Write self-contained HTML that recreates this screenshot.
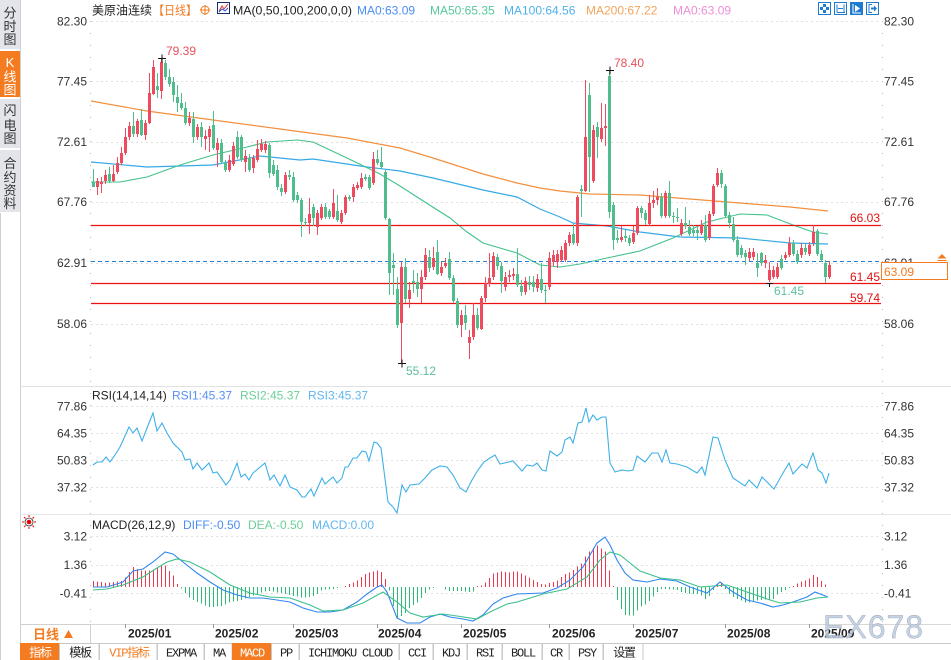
<!DOCTYPE html>
<html><head><meta charset="utf-8">
<style>
html,body{margin:0;padding:0;background:#fff;}
body{width:951px;height:660px;overflow:hidden;}
svg{display:block;font-family:"Liberation Sans","Noto Sans CJK SC",sans-serif;font-size:12px;}
.cj{font-family:"Liberation Sans","Noto Sans CJK SC","WenQuanYi Zen Hei",sans-serif;}
.mono{font-family:"Liberation Mono","Noto Sans CJK SC",monospace;letter-spacing:-1.2px;}
</style></head><body>
<svg id="c" width="951" height="660" viewBox="0 0 951 660" xmlns="http://www.w3.org/2000/svg">
<rect x="0" y="0" width="951" height="660" fill="#fff"/>

<!-- left sidebar -->
<rect x="0" y="0" width="20" height="49" fill="#e4e5ea"/>
<rect x="0" y="51" width="20" height="46" fill="#f47b20"/>
<rect x="0" y="99" width="20" height="49" fill="#e4e5ea"/>
<rect x="0" y="150" width="20" height="62" fill="#e4e5ea"/>
<line x1="0.5" y1="213" x2="0.5" y2="660" stroke="#cfcfcf"/>
<line x1="20.5" y1="0" x2="20.5" y2="660" stroke="#d0d0d0"/>
<g class="cj" text-anchor="middle">
<text x="10" y="17.5" style="font-size:13px" fill="#333">分</text>
<text x="10" y="31" style="font-size:13px" fill="#333">时</text>
<text x="10" y="44" style="font-size:13px" fill="#333">图</text>
<text x="10" y="67" style="font-size:13px" fill="#fff">K</text>
<text x="10" y="81.5" style="font-size:13px" fill="#fff">线</text>
<text x="10" y="94.5" style="font-size:13px" fill="#fff">图</text>
<text x="10" y="115" style="font-size:13px" fill="#333">闪</text>
<text x="10" y="130" style="font-size:13px" fill="#333">电</text>
<text x="10" y="143" style="font-size:13px" fill="#333">图</text>
<text x="10" y="168" style="font-size:13px" fill="#333">合</text>
<text x="10" y="182" style="font-size:13px" fill="#333">约</text>
<text x="10" y="195" style="font-size:13px" fill="#333">资</text>
<text x="10" y="208" style="font-size:13px" fill="#333">料</text>
</g>

<!-- panel separators -->
<line x1="20" y1="386.5" x2="951" y2="386.5" stroke="#e2e2e2"/>
<line x1="20" y1="514.5" x2="951" y2="514.5" stroke="#e6e6e6"/>

<!-- grid lines -->
<g stroke="#e0e0e0" stroke-dasharray="2,3">
<line x1="91" y1="21.5" x2="881" y2="21.5"/>
<line x1="91" y1="81.5" x2="881" y2="81.5"/>
<line x1="91" y1="142.5" x2="881" y2="142.5"/>
<line x1="91" y1="202.5" x2="881" y2="202.5"/>
<line x1="91" y1="263.5" x2="881" y2="263.5"/>
<line x1="91" y1="324.5" x2="881" y2="324.5"/>
<line x1="91" y1="406.5" x2="881" y2="406.5"/>
<line x1="91" y1="433.5" x2="881" y2="433.5"/>
<line x1="91" y1="460.5" x2="881" y2="460.5"/>
<line x1="91" y1="487.5" x2="881" y2="487.5"/>
<line x1="91" y1="536.5" x2="881" y2="536.5"/>
<line x1="91" y1="565.5" x2="881" y2="565.5"/>
<line x1="91" y1="593.5" x2="881" y2="593.5"/>
</g>

<!-- axes dotted -->
<g stroke="#b8b8b8" stroke-dasharray="1,11">
<line x1="90.5" y1="21" x2="90.5" y2="623"/>
<line x1="882.5" y1="21" x2="882.5" y2="623"/>
</g>

<!-- axis labels left -->
<g fill="#333" text-anchor="end">
<text x="87" y="25.5">82.30</text>
<text x="87" y="85.5">77.45</text>
<text x="87" y="146">72.61</text>
<text x="87" y="206">67.76</text>
<text x="87" y="267">62.91</text>
<text x="87" y="328">58.06</text>
<text x="87" y="410.5">77.86</text>
<text x="87" y="437.5">64.35</text>
<text x="87" y="464.5">50.83</text>
<text x="87" y="491.5">37.32</text>
<text x="87" y="540.5">3.12</text>
<text x="87" y="569">1.36</text>
<text x="87" y="597.5">-0.41</text>
</g>
<!-- axis labels right -->
<g fill="#333">
<text x="884" y="25.5">82.30</text>
<text x="884" y="85.5">77.45</text>
<text x="884" y="146">72.61</text>
<text x="884" y="206">67.76</text>
<text x="884" y="267">62.91</text>
<text x="884" y="328">58.06</text>
<text x="884" y="410.5">77.86</text>
<text x="884" y="437.5">64.35</text>
<text x="884" y="464.5">50.83</text>
<text x="884" y="491.5">37.32</text>
<text x="884" y="540.5">3.12</text>
<text x="884" y="569">1.36</text>
<text x="884" y="597.5">-0.41</text>
</g>

<!-- header -->
<text x="92" y="14.5" fill="#222" class="cj">美原油连续</text>
<text x="153" y="14.5" fill="#f47b20" class="cj" textLength="44" lengthAdjust="spacingAndGlyphs">【日线】</text>
<circle cx="205" cy="10" r="4" fill="none" stroke="#f47b20" stroke-width="1"/>
<line x1="200" y1="10" x2="210" y2="10" stroke="#f47b20"/>
<line x1="205" y1="5" x2="205" y2="15" stroke="#f47b20"/>
<rect x="217.5" y="2.5" width="12" height="11" fill="#fff" stroke="#1b2a6b"/>
<polyline points="219,11 222,6 224,9 228,4" fill="none" stroke="#e03030" stroke-width="1"/>
<polyline points="219,12 222,9 225,11 228,8" fill="none" stroke="#2060e0" stroke-width="1"/>
<text x="233" y="14.5" fill="#222" textLength="119" lengthAdjust="spacingAndGlyphs">MA(0,50,100,200,0,0)</text>
<text x="357" y="14.5" fill="#4b8ef5">MA0:63.09</text>
<text x="430" y="14.5" fill="#56c99a">MA50:65.35</text>
<text x="504" y="14.5" fill="#4db2ee">MA100:64.56</text>
<text x="586" y="14.5" fill="#f5a35c">MA200:67.22</text>
<text x="673" y="14.5" fill="#ee8ed8">MA0:63.09</text>

<!-- toolbar icons -->
<g>
<rect x="818.5" y="2.5" width="12" height="12" fill="#fff" stroke="#1f7bd0"/>
<rect x="823" y="4" width="3" height="3" fill="#1f7bd0"/><rect x="823" y="10" width="3" height="3" fill="#1f7bd0"/>
<rect x="820" y="7" width="3" height="3" fill="#1f7bd0"/><rect x="826" y="7" width="3" height="3" fill="#1f7bd0"/>
<rect x="834.5" y="2.5" width="12" height="12" fill="#fff" stroke="#1f7bd0"/>
<path d="M837 4.5V12.5M844 4.5V12.5M838 8.5H843M837 12.5H845" stroke="#1f7bd0" fill="none"/>
<rect x="850.5" y="2.5" width="12" height="12" fill="#1f7bd0" stroke="#1f7bd0"/>
<path d="M853 4V13H861" stroke="#fff" fill="none"/><polygon points="855,5 860,8.5 855,12" fill="#fff"/>
<rect x="866.5" y="2.5" width="12" height="12" fill="#fff" stroke="#1f7bd0"/>
<path d="M872 4.5H869V12.5H872" stroke="#1f7bd0" fill="none"/><path d="M871 8.5H875" stroke="#1f7bd0" stroke-width="2"/><polygon points="874,5.5 877,8.5 874,11.5" fill="#1f7bd0"/>
</g>

<!-- MA lines -->
<polyline fill="none" stroke="#f2903f" stroke-width="1.2" points="91,101 147,111 213,120 280,129 347,138 400,148 433,158 483,174 517,183 540,188 560,191 590,194 640,195 690,199 740,203 790,207 828,211"/>
<polyline fill="none" stroke="#36a9e6" stroke-width="1.2" points="91,162 147,167 213,165 260,156 300,160 313,159 367,167 400,171 433,178 483,190 517,197 540,209 560,217 573,223 607,226 640,232 680,237 740,238 790,243 828,244"/>
<polyline fill="none" stroke="#42c28a" stroke-width="1.1" points="91,182 120,182 147,177 180,165 213,155 247,147 267,142 297,140 313,142 347,158 380,174 400,186 417,197 450,218 467,232 483,243 517,253 540,265 560,267 580,264 607,258 640,251 673,238 707,222 740,214 767,215 793,225 813,232 828,234"/>

<!-- horizontal levels -->
<line x1="91" y1="225.5" x2="881" y2="225.5" stroke="#ee1111" stroke-width="1.3"/>
<line x1="91" y1="283.5" x2="881" y2="283.5" stroke="#ee1111" stroke-width="1.3"/>
<line x1="91" y1="303.5" x2="881" y2="303.5" stroke="#ee1111" stroke-width="1.3"/>
<line x1="91" y1="261.5" x2="881" y2="261.5" stroke="#2080e0" stroke-width="1" stroke-dasharray="4,3"/>

<!-- candles -->
<path id="gw" stroke="#4fbd8c" stroke-width="1" fill="none" shape-rendering="crispEdges"/>
<path id="rw" stroke="#ee4b5e" stroke-width="1" fill="none" shape-rendering="crispEdges"/>
<path id="gb" fill="#4fbd8c" shape-rendering="crispEdges"/>
<path id="rb" fill="#ee4b5e" shape-rendering="crispEdges"/>

<!-- level labels -->
<text x="850" y="222" fill="#e01010">66.03</text>
<text x="850" y="281" fill="#e01010">61.45</text>
<text x="850" y="302" fill="#e01010">59.74</text>

<!-- extreme markers -->
<text x="166" y="55" fill="#e8505b">79.39</text>
<text x="614" y="67" fill="#e8505b">78.40</text>
<text x="406" y="375" fill="#5fbf9f">55.12</text>
<text x="774" y="295" fill="#5fbf9f">61.45</text>
<path d="M158 58.5H166M162 54.5V62.5M606 70.5H614M610 66.5V74.5M398 363.5H406M402 359.5V367.5M766 283.5H773M769.5 283V287" stroke="#111" stroke-width="1" fill="none"/>

<!-- price box -->
<rect x="881.5" y="262.5" width="66" height="17" fill="#fff" stroke="#f47b20"/>
<text x="884" y="276" fill="#f47b20">63.09</text>
<polygon points="942,254 946.5,258.5 937.5,258.5" fill="#f47b20"/>
<line x1="937.5" y1="260.5" x2="946.5" y2="260.5" stroke="#f47b20"/>

<!-- RSI -->
<text x="92" y="399.5" fill="#222">RSI(14,14,14)</text>
<text x="172" y="399.5" fill="#5a8ff5">RSI1:45.37</text>
<text x="240" y="399.5" fill="#6ccf98">RSI2:45.37</text>
<text x="308" y="399.5" fill="#62b7f0">RSI3:45.37</text>
<polyline fill="none" stroke="#3fb0e8" stroke-width="1.1" points="93,465 97,462 102,462 106,457 110,462 115,455 120,447 129,427 133,433 137,428 142,441 147,428 153,413 157,431 162,423 167,433 173,443 182,452 185,460 190,459 193,469 197,463 202,470 209,463 213,473 217,472 226,485 230,480 237,463 241,477 245,474 249,480 253,473 265,463 270,480 274,475 280,486 285,475 290,487 297,490 302,497 305,497 311,489 314,496 322,478 325,484 333,477 337,483 342,478 345,467 348,467 353,458 357,458 362,451 366,452 369,461 374,442 377,443 381,448 388,502 393,507 397,513 402,485 406,492 410,485 419,484 425,478 432,470 440,466 447,467 453,475 460,488 466,492 472,480 478,470 484,462 490,458 495,455 500,464 513,461 522,471 527,465 533,466 537,463 542,470 546,471 550,451 557,456 562,452 565,440 570,437 573,443 578,423 582,422 586,408 589,422 593,415 597,420 602,417 606,417 610,463 615,472 622,470 628,471 633,470 637,456 645,462 652,453 658,453 662,462 666,450 670,463 677,464 687,467 697,473 702,467 705,475 713,437 718,438 725,460 733,478 745,486 749,480 757,488 762,477 774,489 783,473 789,463 793,474 802,464 807,468 813,453 818,470 822,473 826,483 829,473"/>

<!-- MACD -->
<g>
<circle cx="29" cy="522" r="2.3" fill="#e00"/>
<circle cx="29" cy="522" r="4" fill="none" stroke="#333" stroke-width="0.8"/>
<path d="M29 515V517M29 527V529M22 522H24M34 522H36M24 517L25.5 518.5M32.5 525.5L34 527M34 517L32.5 518.5M25.5 525.5L24 527" stroke="#e00" stroke-width="1"/>
</g>
<text x="92" y="529" fill="#222">MACD(26,12,9)</text>
<text x="183" y="529" fill="#4b8ef5">DIFF:-0.50</text>
<text x="248" y="529" fill="#6ccf98">DEA:-0.50</text>
<text x="312" y="529" fill="#62b7f0">MACD:0.00</text>
<path id="hr" fill="#f0364c" shape-rendering="crispEdges"/>
<path id="hg" fill="#30b878" shape-rendering="crispEdges"/>
<polyline id="diff" fill="none" stroke="#2f86f0" stroke-width="1.1" points="93,587 107,587 123,582 133,571 143,569 153,562 165,552 173,554 183,562 197,573 210,582 223,590 237,595 250,598 263,598 277,600 290,602 303,608 317,612 330,612 343,610 357,602 367,594 377,587 382,585 387,592 397,618 407,623 420,623 430,617 440,614 450,617 463,619 473,621 483,615 493,604 503,598 517,594 543,593 557,588 570,580 583,567 597,543 605,537 610,545 617,560 625,573 633,580 647,582 660,579 677,581 690,587 707,593 720,582 733,592 747,600 760,603 773,607 783,605 793,602 807,597 815,592 828,597"/>
<polyline id="dea" fill="none" stroke="#3cc08a" stroke-width="1.1" points="93,590 107,589 123,585 143,577 157,568 167,562 177,559 190,562 210,572 230,585 250,593 270,597 290,598 310,605 323,611 343,610 363,603 383,592 397,602 410,613 423,617 443,614 457,616 477,619 490,612 507,604 517,602 543,594 567,589 587,577 600,560 610,552 620,555 630,563 640,571 660,578 680,580 700,587 727,585 747,592 767,599 780,603 800,602 817,598 828,597"/>

<!-- date axis -->
<line x1="20" y1="624.5" x2="951" y2="624.5" stroke="#d8d8d8"/>
<rect x="20.5" y="624.5" width="70" height="19" fill="#fff" stroke="#d0d0d0"/>
<text x="33" y="639" fill="#f47b20" font-weight="bold" style="font-size:13px" class="cj">日线</text>
<polygon points="68.5,630 73,638 64,638" fill="#f47b20"/>
<path d="M125.5 624V628M213.5 624V628M293.5 624V628M377.5 624V628M461.5 624V628M549.5 624V628M633.5 624V628M725.5 624V628M809.5 624V628" stroke="#999"/>
<g fill="#222" font-weight="bold">
<text x="128" y="637.5">2025/01</text>
<text x="215" y="637.5">2025/02</text>
<text x="295" y="637.5">2025/03</text>
<text x="378" y="637.5">2025/04</text>
<text x="463" y="637.5">2025/05</text>
<text x="552" y="637.5">2025/06</text>
<text x="635" y="637.5">2025/07</text>
<text x="727" y="637.5">2025/08</text>
<text x="811" y="637.5">2025/09</text>
</g>
<text x="823" y="638" style="font-size:32px;letter-spacing:1px" fill="#bccbe0" fill-opacity="0.85" stroke="#9aa6b4" stroke-width="0.4">EX678</text>

<!-- bottom toolbar -->
<line x1="20" y1="643.5" x2="951" y2="643.5" stroke="#c8c8c8"/>
<g stroke="#c8c8c8" fill="#fff">
<rect x="20.5" y="643.5" width="38.5" height="17" fill="#f47b20" stroke="#f47b20"/>
<rect x="59.5" y="643.5" width="39.5" height="17"/>
<rect x="99.5" y="643.5" width="57.5" height="17"/>
<rect x="157.5" y="643.5" width="46.5" height="17"/>
<rect x="204.5" y="643.5" width="27.5" height="17"/>
<rect x="232.5" y="643.5" width="38.5" height="17" fill="#f47b20" stroke="#f47b20"/>
<rect x="271.5" y="643.5" width="27.5" height="17"/>
<rect x="299.5" y="643.5" width="99.5" height="17"/>
<rect x="399.5" y="643.5" width="33.5" height="17"/>
<rect x="433.5" y="643.5" width="33.5" height="17"/>
<rect x="467.5" y="643.5" width="34.5" height="17"/>
<rect x="502.5" y="643.5" width="39.5" height="17"/>
<rect x="542.5" y="643.5" width="26.5" height="17"/>
<rect x="569.5" y="643.5" width="33.5" height="17"/>
<rect x="603.5" y="643.5" width="39.5" height="17"/>
</g>
<g class="mono" text-anchor="middle">
<text x="40" y="656.5" fill="#fff" class="mono">指标</text>
<text x="80" y="656.5" fill="#222" class="mono">模板</text>
<text x="129" y="656.5" fill="#f47b20" class="mono">VIP指标</text>
<text x="181" y="656.5" fill="#222" class="mono">EXPMA</text>
<text x="219" y="656.5" fill="#222" class="mono">MA</text>
<text x="252" y="656.5" fill="#fff" class="mono">MACD</text>
<text x="286" y="656.5" fill="#222" class="mono">PP</text>
<text x="350" y="656.5" fill="#222" class="mono">ICHIMOKU CLOUD</text>
<text x="417" y="656.5" fill="#222" class="mono">CCI</text>
<text x="451" y="656.5" fill="#222" class="mono">KDJ</text>
<text x="485" y="656.5" fill="#222" class="mono">RSI</text>
<text x="523" y="656.5" fill="#222" class="mono">BOLL</text>
<text x="556" y="656.5" fill="#222" class="mono">CR</text>
<text x="587" y="656.5" fill="#222" class="mono">PSY</text>
<text x="624" y="656.5" fill="#222" class="mono">设置</text>
</g>
</svg>
<script>
(function(){
var C=[[182,187,169,187,0],[181,187,178,195,1],[182,184,177,193,1],[175,181,170,184,1],[174,181,167,183,0],[174,181,165,182,1],[163,172,157,174,1],[153,163,147,165,1],[137,153,128,155,1],[126,137,122,140,1],
[126,134,112,137,0],[121,134,119,137,1],[120,135,109,136,0],[123,135,120,140,1],[93,123,73,124,1],[67,94,60,95,1],[86,90,73,98,0],[62,91,58,99,1],[63,77,60,80,0],[77,84,69,87,0],
[82,95,77,102,0],[97,103,85,112,0],[103,108,93,110,0],[108,123,102,125,0],[118,123,112,126,1],[119,137,112,143,0],[127,137,124,140,1],[127,137,122,147,0],[136,139,130,150,1],[129,137,126,152,1],
[125,148,111,150,0],[143,150,138,167,1],[143,162,139,164,0],[163,170,160,172,0],[160,170,155,172,1],[146,164,142,166,1],[137,157,131,159,0],[137,160,135,162,0],[156,162,150,172,1],[158,170,154,172,0],
[158,168,155,173,1],[149,160,140,162,1],[144,150,139,152,1],[144,150,141,153,1],[145,173,143,178,0],[165,174,160,176,0],[170,187,165,190,0],[188,192,184,196,0],[175,192,172,194,1],[175,177,170,180,0],
[177,200,172,202,0],[195,200,192,203,0],[200,222,198,237,0],[222,223,218,226,0],[214,223,198,234,1],[207,218,204,226,0],[213,227,210,235,1],[207,218,204,220,1],[207,217,203,219,0],[211,217,209,219,0],
[203,217,189,219,1],[211,220,195,222,0],[213,222,210,224,1],[197,213,195,215,1],[197,199,195,201,0],[187,197,184,202,1],[185,188,182,190,1],[178,187,173,189,1],[177,179,174,181,0],[177,188,175,190,0],
[159,183,152,185,1],[159,163,150,165,0],[162,167,147,169,0],[172,218,170,220,0],[219,273,218,295,0],[265,268,253,295,0],[289,325,277,328,0],[267,323,262,363,1],[267,299,258,303,0],[290,299,282,308,1],
[281,283,270,293,0],[282,289,273,297,0],[277,289,270,303,1],[255,277,248,280,1],[257,268,250,272,0],[258,267,247,270,1],[252,274,240,275,0],[267,273,262,276,1],[263,266,258,268,1],[259,278,252,280,0],
[278,301,275,303,0],[301,325,298,328,0],[315,325,310,337,1],[315,323,305,330,0],[337,343,330,359,1],[315,337,303,340,1],[315,328,308,330,0],[298,329,296,330,1],[283,298,277,302,1],[278,284,253,287,1],
[256,277,252,280,1],[257,266,254,270,0],[266,281,262,293,0],[277,287,272,291,1],[275,277,270,282,1],[274,276,268,280,1],[274,285,248,287,0],[286,292,280,296,0],[281,292,277,295,1],[282,285,276,290,0],
[282,287,276,292,0],[279,288,274,292,1],[279,290,263,293,0],[290,291,285,303,0],[258,287,252,290,1],[255,262,250,266,1],[254,262,250,268,1],[250,260,246,262,1],[243,260,240,262,1],[235,243,232,246,1],
[234,243,223,245,0],[197,243,195,246,1],[189,191,185,217,0],[137,191,80,192,1],[95,157,83,192,0],[130,181,125,183,1],[127,137,122,158,0],[128,139,103,142,1],[126,128,104,146,1],[76,212,70,218,0],
[205,240,202,250,0],[238,240,230,243,0],[237,240,226,242,1],[236,238,230,242,0],[238,243,235,246,0],[233,242,226,244,1],[208,233,206,235,1],[208,213,206,218,0],[213,220,210,225,0],[203,224,195,226,1],
[200,203,191,208,1],[197,200,188,205,1],[197,216,193,218,0],[193,216,191,218,1],[193,216,181,218,0],[216,217,212,223,0],[217,218,208,222,0],[223,234,219,236,1],[223,226,207,229,0],[227,234,220,236,0],
[230,233,225,236,0],[230,233,226,240,0],[225,233,220,235,1],[225,240,215,242,0],[214,238,211,240,1],[186,214,184,216,1],[173,185,168,187,1],[173,184,170,188,0],[186,216,184,218,0],[215,223,212,228,0],
[224,240,217,242,0],[240,255,236,257,0],[248,255,245,258,0],[253,257,250,265,0],[252,258,248,261,1],[252,257,248,260,1],[263,268,253,277,0],[253,263,252,266,0],[260,263,255,268,1],[270,280,262,282,1],
[270,277,266,279,1],[267,277,263,279,1],[259,268,255,270,0],[255,258,252,260,1],[243,255,237,257,1],[243,254,240,256,0],[254,262,250,264,0],[248,255,243,258,1],[248,252,244,255,0],[245,254,242,256,1],
[232,243,225,246,1],[231,254,229,256,0],[254,260,250,262,0],[263,277,260,283,0],[265,277,261,279,1]];
var rb='',gb='',rw='',gw='',i,x;
for(i=0;i<C.length;i++){var c=C[i];x=93+4*i;var hh=Math.max(1,c[1]-c[0]);
var w='M'+(x+0.5)+' '+c[2]+'V'+c[3];var b='M'+(x-1)+' '+c[0]+'h3v'+hh+'h-3z';
if(c[4]){rb+=b;rw+=w;}else{gb+=b;gw+=w;}}
function s(id,d){document.getElementById(id).setAttribute('d',d);}
s('rb',rb);s('gb',gb);s('rw',rw);s('gw',gw);
function pts(id){return document.getElementById(id).getAttribute('points').trim().split(/\s+/).map(function(p){return p.split(',').map(Number);});}
function ip(P,x){if(x<=P[0][0])return P[0][1];for(var k=0;k<P.length-1;k++){var a=P[k],b=P[k+1];if(x>=a[0]&&x<=b[0])return a[1]+(b[1]-a[1])*(x-a[0])/(b[0]-a[0]);}return P[P.length-1][1];}
var D=pts('diff'),E=pts('dea'),hr='',hg='';
for(i=0;i<C.length;i++){x=93+4*i;var d=2*(ip(E,x+0.5)-ip(D,x+0.5));if(Math.abs(d)<0.8)continue;
var p;
if(d>0){p='M'+x+' '+(587-d).toFixed(1)+'h1V587h-1z';hr+=p;}
else{p='M'+x+' 587h1V'+(587-d).toFixed(1)+'h-1z';hg+=p;}}
s('hr',hr);s('hg',hg);
})();
</script>
</body></html>
